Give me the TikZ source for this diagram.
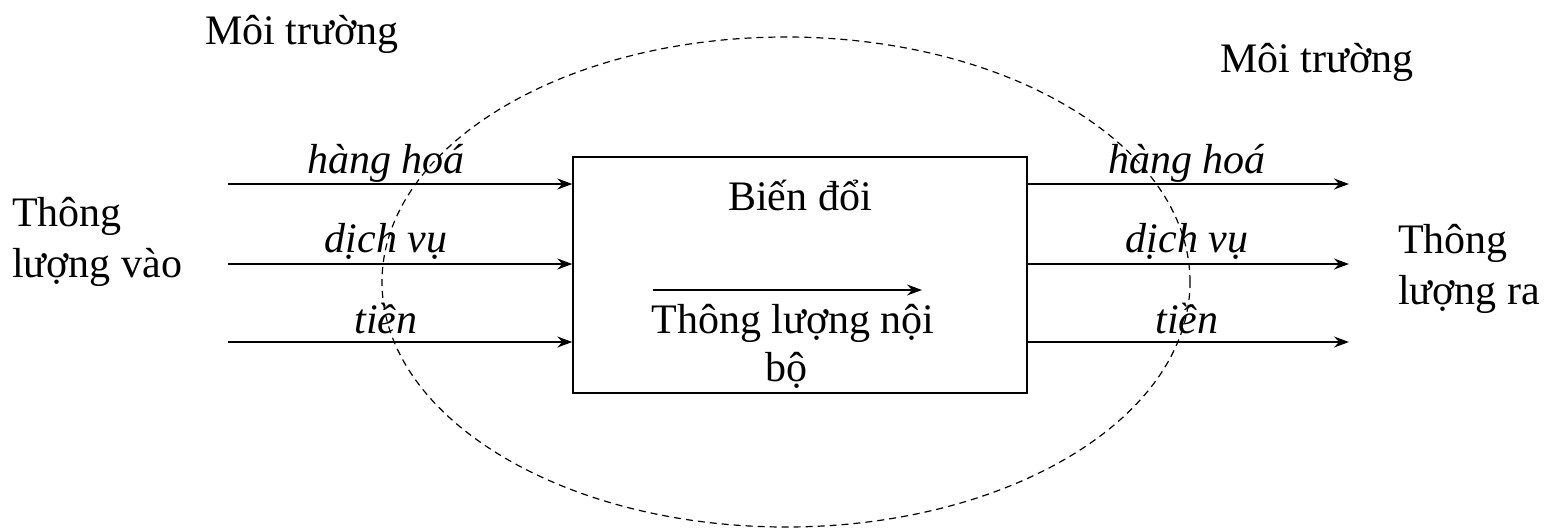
\documentclass[tikz,border=0pt]{standalone}
\usepackage{fontspec}
\setmainfont{Liberation Serif}
\usetikzlibrary{arrows.meta}
\begin{document}
\begin{tikzpicture}[x=1pt,y=-1pt,
  flow/.style={line width=1.4pt,-{Stealth[length=15pt,width=11pt,inset=5pt]}},
  txt/.style={font=\fontsize{42}{51}\selectfont,inner sep=0pt},
  itxt/.style={txt,font=\fontsize{42}{51}\selectfont\itshape},
  frame/.style={draw,line width=1.4pt,inner sep=0pt,minimum width=454pt,minimum height=236pt},
  env/.style={line width=1.2pt,dash pattern=on 7pt off 5pt}]
\useasboundingbox (0,0) rectangle (1564,528);

% system boundary
\draw[env] (786,282) ellipse [x radius=404pt, y radius=245pt];

% transformation box
\node[frame] (box) at (800,275) {};

% free ends of the flows
\coordinate (i1) at (228,184);
\coordinate (i2) at (228,264);
\coordinate (i3) at (228,342);
\coordinate (o1) at (1349,184);
\coordinate (o2) at (1349,264);
\coordinate (o3) at (1349,342);

% incoming flows
\draw[flow] (i1) -- (i1 -| box.west);
\draw[flow] (i2) -- (i2 -| box.west);
\draw[flow] (i3) -- (i3 -| box.west);
% outgoing flows
\draw[flow] (o1 -| box.east) -- (o1);
\draw[flow] (o2 -| box.east) -- (o2);
\draw[flow] (o3 -| box.east) -- (o3);

% flow labels
\node[itxt,anchor=base] (li1) at (386,173) {hàng hoá};
\node[itxt,anchor=base] (li2) at (386,252) {dịch vụ};
\node[itxt,anchor=base] (li3) at (386,333) {tiền};
\node[itxt,anchor=base] (lo1) at (1187,173) {hàng hoá};
\node[itxt,anchor=base] (lo2) at (1187,252) {dịch vụ};
\node[itxt,anchor=base] (lo3) at (1187,333) {tiền};

% inside the box
\node[txt,anchor=base] (bd) at (800,210) {Biến đổi};
\coordinate (ia) at (653,290);
\coordinate (ib) at (922,290);
\draw[flow,line width=1.2pt] (ia) -- (ib);
\node[txt,anchor=base] (tl1) at (793,333) {Thông lượng nội};
\node[txt,anchor=base] (tl2) at (786,381) {bộ};

% side labels
\node[txt,anchor=base west] (in1) at (12,226) {Thông};
\node[txt,anchor=base west] (in2) at (12,277) {lượng vào};
\node[txt,anchor=base west] (out1) at (1398,253) {Thông};
\node[txt,anchor=base west] (out2) at (1398,304) {lượng ra};

% environment labels
\node[txt,anchor=base west] (env1) at (205,44) {Môi trường};
\node[txt,anchor=base west] (env2) at (1220,72) {Môi trường};
\end{tikzpicture}
\end{document}
